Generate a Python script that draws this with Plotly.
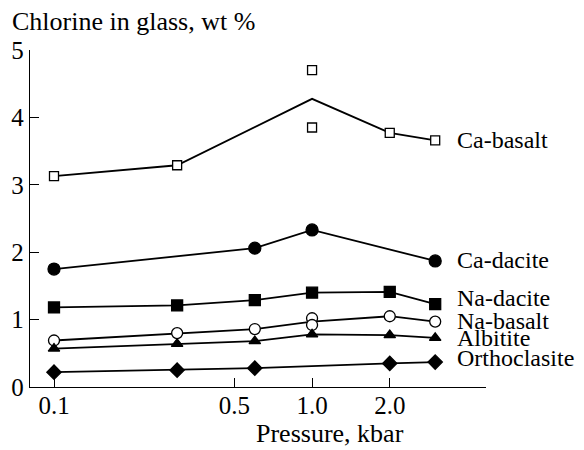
import numpy as np
import pandas as pd
import plotly.graph_objects as go

# ---- data (pressure in kbar, chlorine in wt %) ----
series_names = ["Ca-basalt", "Ca-dacite", "Na-dacite", "Na-basalt", "Albitite", "Orthoclasite"]

ca_basalt_p = [0.1, 0.3, 1.0, 1.0, 2.0, 3.0]
ca_basalt_cl = [3.13, 3.29, 4.70, 3.85, 3.77, 3.66]

ca_dacite_p = [0.1, 0.6, 1.0, 3.0]
ca_dacite_cl = [1.75, 2.06, 2.33, 1.87]

na_dacite_p = [0.1, 0.3, 0.6, 1.0, 2.0, 3.0]
na_dacite_cl = [1.18, 1.21, 1.29, 1.40, 1.41, 1.23]

na_basalt_p = [0.1, 0.3, 0.6, 1.0, 1.0, 2.0, 3.0]
na_basalt_cl = [0.69, 0.80, 0.86, 1.02, 0.92, 1.05, 0.97]

albitite_p = [0.1, 0.3, 0.6, 1.0, 2.0, 3.0]
albitite_cl = [0.57, 0.64, 0.68, 0.78, 0.77, 0.73]

orthoclasite_p = [0.1, 0.3, 0.6, 2.0, 3.0]
orthoclasite_cl = [0.22, 0.25, 0.28, 0.35, 0.37]

x_tick_vals = [0.1, 0.5, 1.0, 2.0]
x_tick_text = ["0.1", "0.5", "1.0", "2.0"]
y_tick_vals = [0, 1, 2, 3, 4, 5]

# ---- styles ----
FONT = "Liberation Serif, Times New Roman, Times, serif"
FS_TICK = 25
FS_LABEL = 24
FS_TITLE = 26
styles = {
    "Ca-basalt": dict(symbol="square", size=9, color="white"),
    "Ca-dacite": dict(symbol="circle", size=12, color="black"),
    "Na-dacite": dict(symbol="square", size=11, color="black"),
    "Na-basalt": dict(symbol="circle", size=11, color="white"),
    "Albitite": dict(symbol="triangle-up", size=10, color="black"),
    "Orthoclasite": dict(symbol="diamond", size=11, color="black"),
}
label_yshift = {"Ca-basalt": 0, "Ca-dacite": 1, "Na-dacite": 6,
                "Na-basalt": 1, "Albitite": 0, "Orthoclasite": 4}

data = {
    "Ca-basalt": (ca_basalt_p, ca_basalt_cl),
    "Ca-dacite": (ca_dacite_p, ca_dacite_cl),
    "Na-dacite": (na_dacite_p, na_dacite_cl),
    "Na-basalt": (na_basalt_p, na_basalt_cl),
    "Albitite": (albitite_p, albitite_cl),
    "Orthoclasite": (orthoclasite_p, orthoclasite_cl),
}

# page body has an 8px default margin; size the figure to fit the window
OFF = 8
W, H = 576, 442
ML, MT = 30 - OFF, 50 - OFF
MR = W - (486 - OFF)
MB = H - (387 - OFF)
pw = W - ML - MR
ph = H - MT - MB


def px_to_paper(ax, ay):
    return (ax - OFF - ML) / pw, (H - MB - (ay - OFF)) / ph


fig = go.Figure()
annotations = []
for name in series_names:
    p, cl = data[name]
    df = pd.DataFrame({"p": p, "cl": cl})
    mean = df.groupby("p", as_index=False)["cl"].mean()
    fig.add_trace(go.Scatter(x=mean["p"], y=mean["cl"], mode="lines",
                             line=dict(color="black", width=1.8),
                             showlegend=False, hoverinfo="skip", cliponaxis=False))
    st = styles[name]
    fig.add_trace(go.Scatter(x=p, y=cl, mode="markers", name=name,
                             marker=dict(symbol=st["symbol"], size=st["size"], color=st["color"],
                                         line=dict(color="black", width=1.3)),
                             showlegend=False, cliponaxis=False))
    annotations.append(dict(x=np.log10(p[-1]), y=cl[-1], xref="x", yref="y",
                            text=name, showarrow=False, xanchor="left", yanchor="middle",
                            xshift=20, yshift=label_yshift[name],
                            font=dict(family=FONT, size=FS_LABEL, color="black")))

tx, ty = px_to_paper(10, 21)
annotations.append(dict(x=tx, y=ty, xref="paper", yref="paper",
                        text="Chlorine in glass, wt %", showarrow=False,
                        xanchor="left", yanchor="middle",
                        font=dict(family=FONT, size=FS_TITLE, color="black")))
tx, ty = px_to_paper(330, 433)
annotations.append(dict(x=tx, y=ty, xref="paper", yref="paper",
                        text="Pressure, kbar", showarrow=False,
                        xanchor="center", yanchor="middle",
                        font=dict(family=FONT, size=FS_TITLE, color="black")))

fig.update_layout(
    width=W, height=H,
    margin=dict(l=ML, r=MR, t=MT, b=MB, pad=0, autoexpand=False),
    paper_bgcolor="white", plot_bgcolor="white",
    font=dict(family=FONT, size=FS_TICK, color="black"),
    annotations=annotations,
    showlegend=False,
)
fig.update_xaxes(type="log", range=[-1.093, 0.674], automargin=False,
                 tickvals=x_tick_vals, ticktext=x_tick_text,
                 showline=True, linecolor="black", linewidth=1.3,
                 ticks="inside", ticklen=9, tickwidth=1.3, tickcolor="black",
                 ticklabelstandoff=-4,
                 showgrid=False, zeroline=False, mirror=False,
                 tickfont=dict(family=FONT, size=FS_TICK, color="black"))
fig.update_yaxes(range=[0, 5], tickvals=y_tick_vals, automargin=False,
                 showline=True, linecolor="black", linewidth=1.3,
                 ticks="inside", ticklen=9, tickwidth=1.3, tickcolor="black",
                 showgrid=False, zeroline=False, mirror=False,
                 tickfont=dict(family=FONT, size=FS_TICK, color="black"))

fig.write_html("out.html")
